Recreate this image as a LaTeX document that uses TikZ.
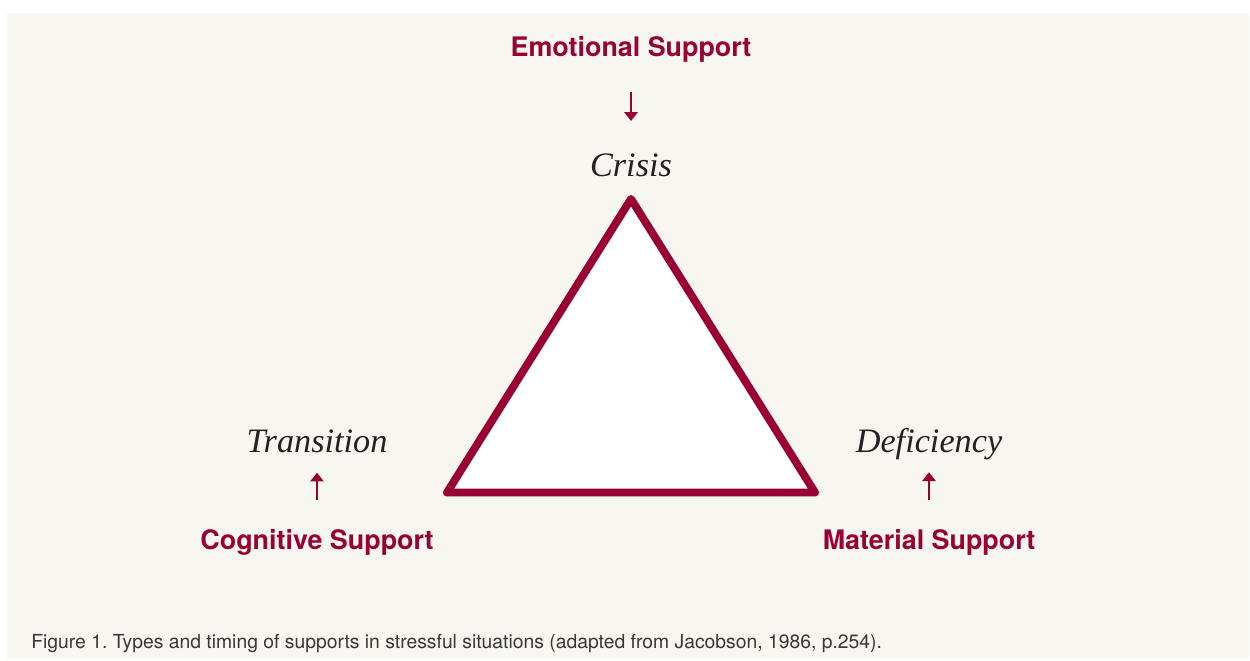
\documentclass[tikz,border=0pt]{standalone}
\usepackage{fontspec}
\setmainfont{Liberation Serif}
\setsansfont{TeX Gyre Heros}
\usetikzlibrary{arrows.meta}
\definecolor{crimson}{HTML}{990033}
\definecolor{paper}{HTML}{F7F6F0}
\definecolor{ink}{HTML}{222222}
\tikzset{
  support/.style={text=crimson, font=\sffamily\bfseries\fontsize{15.3}{18}\selectfont,
    anchor=base, inner sep=0pt},
  situation/.style={text=ink, font=\itshape\fontsize{19.5}{22}\selectfont,
    anchor=base, inner sep=0pt},
  timing/.style={draw=crimson, line width=1.6pt, -{Triangle[width=7.5pt,length=5pt]}},
  stress/.style={draw=crimson, line width=4.5pt, line join=round, fill=white},
  caption/.style={text=ink!90, font=\sffamily\fontsize{11}{13}\selectfont,
    anchor=base west, inner sep=0pt}
}

\begin{document}
\frenchspacing
\begin{tikzpicture}[x=0.02cm, y=-0.02cm]
  \useasboundingbox (0,0) rectangle (1250,661);
  \fill[paper] (7,13) rectangle (1249,659);

  % the triangle of stressful situations
  \draw[stress] (631,199) -- (815,492.5) -- (447,492.5) -- cycle;

  \node[support] (emo) at (631,57) {Emotional Support};
  \node[situation] (crisis) at (631,177) {Crisis};
  \draw[timing, shorten <=0.57cm, shorten >=0.66cm] (emo) -- (crisis);

  \node[situation] (trans) at (317,453) {Transition};
  \node[support] (cog) at (317,549) {Cognitive Support};
  \draw[timing, shorten <=0.58cm, shorten >=0.38cm] (cog) -- (trans);

  \node[situation] (defic) at (929,453) {Deficiency};
  \node[support] (mat) at (929,549) {Material Support};
  \draw[timing, shorten <=0.58cm, shorten >=0.23cm] (mat) -- (defic);

  \node[caption] (cap) at (31,648)
    {Figure 1. Types and timing of supports in stressful situations (adapted from Jacobson, 1986, p.254).};
\end{tikzpicture}
\end{document}
